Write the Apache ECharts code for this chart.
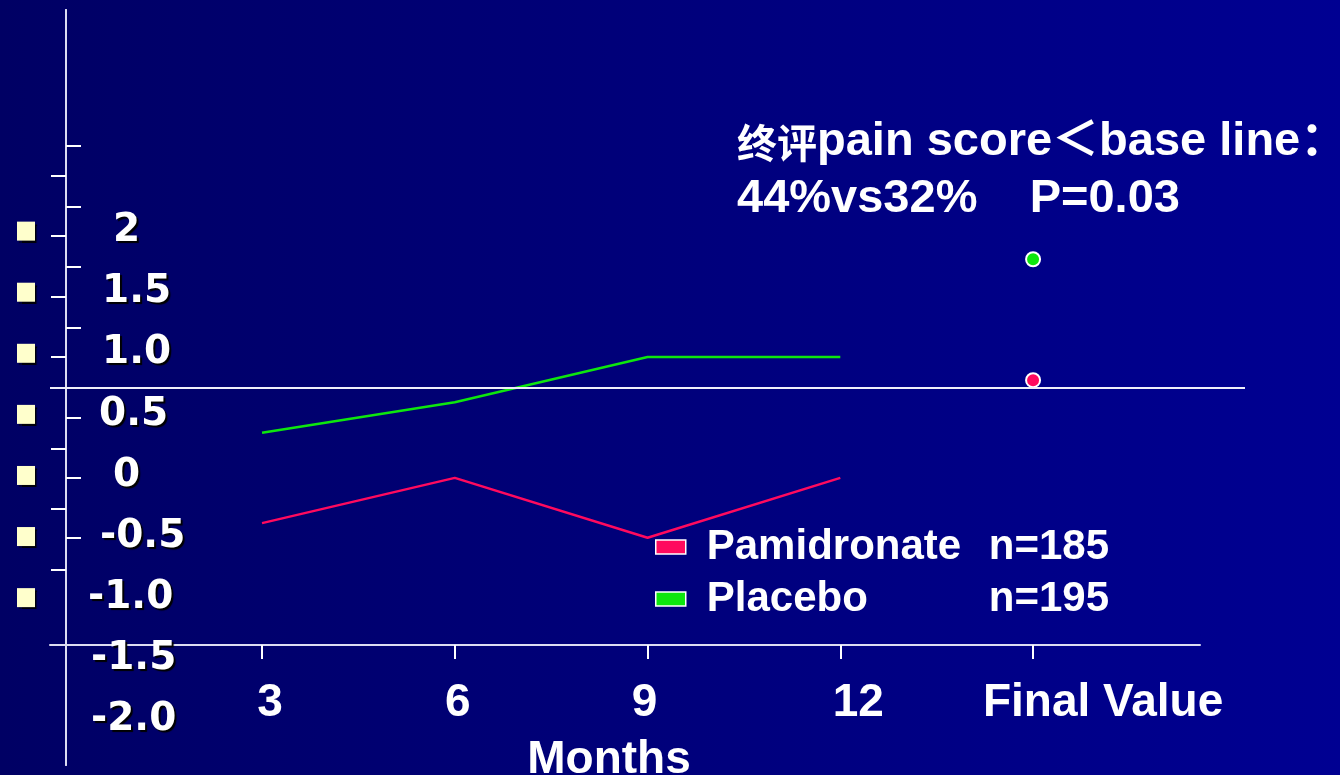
<!DOCTYPE html>
<html>
<head>
<meta charset="utf-8">
<script src="https://cdn.jsdelivr.net/npm/echarts@6/dist/echarts.min.js"></script>
<style>
  html, body { margin: 0; padding: 0; }
  #main { width: 1340px; height: 775px; background: linear-gradient(to right, #000064, #000092); }
</style>
</head>
<body>
<div id="main"></div>
<script>
// data
const categories = ["3", "6", "9", "12", "Final Value"]
const pamidronate = [-0.39, -0.02, -0.51, -0.02]
const placebo = [0.35, 0.6, 0.97, 0.97]
const finalPamidronate = 0.78
const finalPlacebo = 1.77
const baseLine = 0.72
const yLabels = ["2", "1.5", "1.0", "0.5", "0", "-0.5", "-1.0", "-1.5", "-2.0"]
const yLabelValues = [2, 1.5, 1, 0.5, 0, -0.5, -1, -1.5, -2]
const ticksRight = [2.7, 2.2, 1.71, 1.21, 0.47, -0.02, -0.51]
const ticksLeft = [2.45, 1.96, 1.46, 0.97, 0.22, -0.27, -0.77]
const legendNames = ["Pamidronate", "Placebo"]
const legendCounts = ["n=185", "n=195"]

const RED = "#ff0a5e"
const GREEN = "#0ee60e"
const AXIS = "#dcdcf2"
const LATIN = '"Liberation Sans", Arial, "Noto Sans CJK SC", sans-serif'

// y label layout: text start (px) and whether a bullet is shown
const yTextStart = [113, 102, 102, 99, 113, 100, 88, 91, 91]
const bulletCount = 7

const yRich = {
  b: { width: 18, height: 19, backgroundColor: "#ffffcc", shadowColor: "rgba(0,0,0,0.9)", shadowOffsetX: 2, shadowOffsetY: 2, shadowBlur: 1 },
  t: { color: "#fff", fontSize: 39, fontWeight: "bold", fontFamily: '"DejaVu Sans", sans-serif', textShadowColor: "#000", textShadowOffsetX: 2, textShadowOffsetY: 2, textShadowBlur: 1 },
}
yTextStart.forEach((s, i) => {
  yRich["g" + i] = { width: i < bulletCount ? s - 35 : s - 17 }
})

// x label shifts relative to the ticks
const xShift = [16, 6, -6, 36, 140]
const xRich = {}
xShift.forEach((s, i) => {
  xRich["c" + i] = {
    color: "#fff", fontSize: 46, fontWeight: "bold", fontFamily: LATIN,
    padding: s >= 0 ? [0, 0, 0, s] : [0, -s, 0, 0],
  }
})

const chart = echarts.init(document.getElementById("main"))

const yBase = {
  type: "value",
  position: "left",
  min: -2.37,
  max: 3.81,
  offset: -16,
  splitLine: { show: false },
  axisLine: { show: true, onZero: false, lineStyle: { color: AXIS, width: 2 } },
}

const option = {
  backgroundColor: "transparent",
  animation: false,
  title: {
    text: "{c|终评}{l|pain score＜base line：}\n{l|44%vs32%    P=0.03}",
    left: 737,
    top: 114,
    padding: 0,
    textStyle: {
      rich: {
        c: { color: "#fff", fontSize: 40, fontWeight: "bold", fontFamily: '"Noto Sans CJK SC", sans-serif', lineHeight: 57 },
        l: { color: "#fff", fontSize: 47, fontWeight: "bold", fontFamily: LATIN, lineHeight: 57 },
      },
    },
  },
  legend: {
    data: [
      { name: legendNames[0], icon: "rect", itemStyle: { color: RED, borderColor: "#fff", borderWidth: 1.5 } },
      { name: legendNames[1], icon: "rect", itemStyle: { color: GREEN, borderColor: "#fff", borderWidth: 1.5 } },
    ],
    orient: "vertical",
    left: 655,
    top: 526,
    padding: 0,
    itemWidth: 30,
    itemHeight: 14,
    itemGap: 10,
    selectedMode: false,
    formatter: (name) => "{a|" + name + "}{n|" + legendCounts[legendNames.indexOf(name)] + "}",
    textStyle: {
      padding: [0, 0, 0, 16],
      rich: {
        a: { width: 282, color: "#fff", fontSize: 42, fontWeight: "bold", fontFamily: LATIN },
        n: { color: "#fff", fontSize: 42, fontWeight: "bold", fontFamily: LATIN },
      },
    },
  },
  grid: { left: 50, right: 140, top: 10, bottom: 10, outerBoundsMode: "none", containLabel: false },
  xAxis: {
    type: "value",
    min: -1.1,
    max: 4.866,
    offset: -120,
    splitLine: { show: false },
    axisLine: { show: true, onZero: false, lineStyle: { color: AXIS, width: 2 } },
    axisTick: { show: true, length: 14, customValues: [0, 1, 2, 3, 4], lineStyle: { color: "#fff", width: 2 } },
    axisLabel: {
      customValues: [0, 1, 2, 3, 4],
      margin: 35,
      formatter: (v) => {
        const i = Math.round(v)
        return "{c" + i + "|" + categories[i] + "}"
      },
      rich: xRich,
    },
    name: "Months",
    nameLocation: "middle",
    nameGap: 92,
    nameTextStyle: { color: "#fff", fontSize: 46, fontWeight: "bold", fontFamily: LATIN, padding: [0, 32, 0, 0] },
  },
  yAxis: [
    Object.assign({}, yBase, {
      axisTick: { show: true, inside: true, length: 15, customValues: ticksRight, lineStyle: { color: "#fff", width: 2 } },
      axisLabel: {
        customValues: yLabelValues,
        align: "left",
        margin: 49,
        formatter: (v) => {
          const i = yLabelValues.indexOf(v)
          const pre = i < bulletCount ? "{b|}" : ""
          return pre + "{g" + i + "|}{t|" + yLabels[i] + "}"
        },
        rich: yRich,
      },
    }),
    Object.assign({}, yBase, {
      axisTick: { show: true, inside: false, length: 15, customValues: ticksLeft, lineStyle: { color: "#fff", width: 2 } },
      axisLabel: { show: false },
    }),
  ],
  series: [
    {
      name: legendNames[0],
      type: "line",
      data: pamidronate.map((v, i) => [i, v]),
      symbol: "none",
      lineStyle: { color: RED, width: 2.5 },
      itemStyle: { color: RED },
      markLine: {
        silent: true,
        symbol: "none",
        label: { show: false },
        lineStyle: { color: "#eeeefa", width: 2, type: "solid" },
        data: [[{ x: 50, yAxis: baseLine }, { x: 1245, yAxis: baseLine }]],
      },
    },
    {
      name: legendNames[1],
      type: "line",
      data: placebo.map((v, i) => [i, v]),
      symbol: "none",
      lineStyle: { color: GREEN, width: 2.5 },
      itemStyle: { color: GREEN },
    },
    {
      name: legendNames[0],
      type: "scatter",
      data: [[4, finalPamidronate]],
      symbolSize: 14,
      itemStyle: { color: RED, borderColor: "#fff", borderWidth: 2, opacity: 1 },
    },
    {
      name: legendNames[1],
      type: "scatter",
      data: [[4, finalPlacebo]],
      symbolSize: 14,
      itemStyle: { color: GREEN, borderColor: "#fff", borderWidth: 2, opacity: 1 },
    },
  ],
}

option && chart.setOption(option)
</script>
</body>
</html>
